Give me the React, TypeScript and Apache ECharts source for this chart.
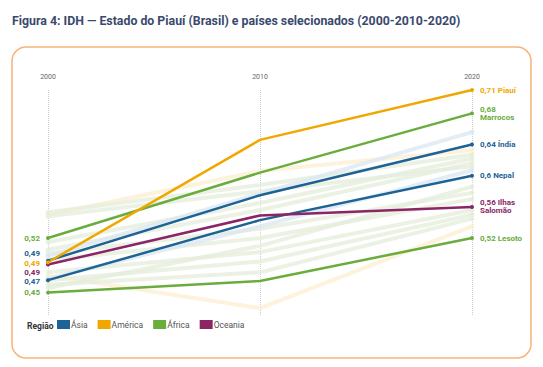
import React, { useEffect, useRef } from "react";
import * as echarts from "echarts";

const years = ["2000", "2010", "2020"];

// Highlighted series
const piaui = [0.489, 0.646, 0.71];
const marrocos = [0.52, 0.604, 0.68];
const india = [0.491, 0.575, 0.64];
const nepal = [0.466, 0.543, 0.6];
const salomao = [0.486, 0.549, 0.56];
const lesoto = [0.45, 0.465, 0.52];

// Background (faint) series
const bgYellow1 = [0.55, 0.606, 0.633];
const bgYellow2 = [0.472, 0.43, 0.535];
const bgBlue1 = [0.497, 0.577, 0.656];
const bgBlue2 = [0.468, 0.535, 0.607];
const bgGreen = [
  [0.553, 0.588, 0.627],
  [0.548, 0.58, 0.612],
  [0.515, 0.565, 0.622],
  [0.505, 0.556, 0.616],
  [0.5, 0.532, 0.578],
  [0.492, 0.52, 0.57],
  [0.476, 0.502, 0.556],
  [0.466, 0.49, 0.55],
  [0.456, 0.51, 0.586],
  [0.46, 0.476, 0.545],
];

const regions = ["Ásia", "América", "África", "Oceania"];
const regionColors = ["#1d6396", "#f0a800", "#6aad3d", "#8c2566"];
const faintColors = ["#dbe7f1", "#fcefd0", "#e4eedb", "#ecdde6"];

const FONT = "Roboto, 'Noto Sans', sans-serif";

const fmt = (v: number) => String(Math.round(v * 100) / 100).replace(".", ",");

export default function App() {
  const ref = useRef<HTMLDivElement>(null);
  useEffect(() => {
    if (!ref.current) return;
    const chart = echarts.init(ref.current, undefined, { renderer: "svg" });

    const highlight = (
      name: string,
      values: number[],
      region: number,
      endText: string,
      leftOffset: number
    ) => ({
      name,
      type: "line",
      z: 5,
      data: values.map((v, i) => ({
        value: v,
        symbol: i === 1 ? "none" : "circle",
        symbolSize: 4,
        label:
          i === 0
            ? {
                show: true,
                position: "left",
                distance: 6,
                offset: [0, leftOffset],
                formatter: fmt(v),
              }
            : i === 2
            ? {
                show: true,
                position: "right",
                distance: 6,
                formatter: endText.replace("{v}", fmt(v)),
              }
            : { show: false },
      })),
      lineStyle: { width: 2.5, color: regionColors[region] },
      itemStyle: { color: regionColors[region] },
      label: {
        color: regionColors[region],
        fontSize: 8,
        fontWeight: "bold",
        fontFamily: FONT,
        lineHeight: 8,
      },
      emphasis: { disabled: true },
    });

    const faint = (values: number[], region: number) => ({
      type: "line",
      silent: true,
      z: 2,
      data: values.map((v, i) => ({
        value: v,
        symbol: i === 1 ? "none" : "circle",
        symbolSize: 5,
      })),
      lineStyle: { width: 4, color: faintColors[region], opacity: 0.75 },
      itemStyle: { color: faintColors[region], opacity: 0.75 },
      emphasis: { disabled: true },
    });

    const series: any[] = [
      faint(bgYellow1, 1),
      faint(bgYellow2, 1),
      ...bgGreen.map((g) => faint(g, 2)),
      faint(bgBlue1, 0),
      faint(bgBlue2, 0),
      highlight("Lesoto", lesoto, 2, "{v} Lesoto", 0),
      highlight("Nepal", nepal, 0, "{v} Nepal", 1),
      highlight("Índia", india, 0, "{v} Índia", -7.5),
      highlight("Ilhas Salomão", salomao, 3, "{v} Ilhas\nSalomão", 7.5),
      highlight("Marrocos", marrocos, 2, "{v}\nMarrocos", 0),
      highlight("Piauí", piaui, 1, "{v} Piauí", 1.5),
      ...regions.map((r, i) => ({
        name: r,
        type: "line",
        data: [],
        itemStyle: { color: regionColors[i] },
        lineStyle: { color: regionColors[i] },
      })),
    ];

    chart.setOption({
      animation: false,
      grid: { left: 48, right: 71, top: 90, bottom: 51 },
      xAxis: {
        type: "category",
        data: years,
        position: "top",
        boundaryGap: false,
        axisLine: { show: false },
        axisTick: { show: false },
        axisLabel: { fontSize: 7, color: "#666", margin: 10, fontFamily: FONT },
        splitLine: { show: true, lineStyle: { type: "dotted", color: "#cccccc", width: 1 } },
      },
      yAxis: {
        type: "value",
        min: 0.42,
        max: 0.71,
        show: false,
        splitLine: { show: false },
      },
      legend: {
        data: regions,
        left: 57,
        top: 320,
        padding: 0,
        icon: "rect",
        itemWidth: 13,
        itemHeight: 9,
        itemGap: 10,
        textStyle: { fontSize: 8.5, color: "#555", fontFamily: FONT, padding: [0, 0, 0, -4] },
        selectedMode: false,
      },
      graphic: [
        {
          type: "text",
          x: 12,
          y: 14,
          scaleX: 0.95,
          style: {
            text: "Figura 4: IDH — Estado do Piauí (Brasil) e países selecionados (2000-2010-2020)",
            fontSize: 13,
            fontWeight: "bold",
            fill: "#3a4a6d",
            fontFamily: FONT,
          },
        },
        {
          type: "rect",
          shape: { x: 12, y: 47, width: 519, height: 311, r: 14 },
          style: { fill: "none", stroke: "#f8b47a", lineWidth: 1.5 },
          silent: true,
        },
        {
          type: "text",
          x: 27,
          y: 321,
          style: {
            text: "Região",
            fontSize: 8.5,
            fontWeight: "bold",
            fill: "#333",
            fontFamily: FONT,
          },
        },
      ],
      series,
    });
    return () => chart.dispose();
  }, []);
  return (
    <div
      ref={ref}
      style={{ position: "fixed", left: 0, top: 0, width: 543, height: 367, background: "#fff" }}
    />
  );
}
